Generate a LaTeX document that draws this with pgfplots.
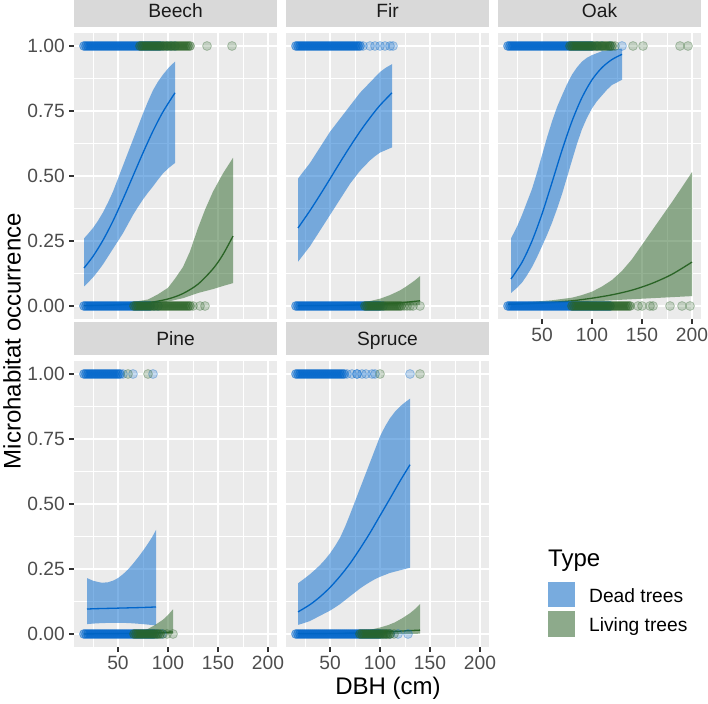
\documentclass[border=0pt]{standalone}
\usepackage{fontspec}
\setmainfont{Liberation Sans}
\usepackage{pgfplots}
\pgfplotsset{compat=1.18}
\definecolor{deadc}{HTML}{0066CC}
\definecolor{livec}{HTML}{2A6426}
\definecolor{panelbg}{HTML}{EBEBEB}
\definecolor{stripbg}{HTML}{D9D9D9}
\definecolor{striptxt}{HTML}{1A1A1A}
\definecolor{ticktxt}{HTML}{4D4D4D}
\definecolor{tickc}{HTML}{333333}
\definecolor{legbg}{HTML}{F2F2F2}
\newcommand\smallfont{\fontsize{19.2pt}{23pt}\selectfont}
\newcommand\bigfont{\fontsize{24pt}{29pt}\selectfont}
\pgfplotsset{
  panel/.style={
    scale only axis, width=203pt, height=286pt,
    xmin=6, xmax=209, ymin=-0.05, ymax=1.05,
    axis background/.style={fill=panelbg},
    axis line style={draw=none},
    xtick={50,100,150,200}, ytick={0,0.25,0.5,0.75,1},
    minor xtick={25,75,125,175}, minor ytick={0.125,0.375,0.625,0.875},
    grid=both,
    major grid style={white, line width=1.6pt},
    minor grid style={white, line width=0.8pt},
    tick align=outside, major tick length=5pt, minor tick length=0pt,
    tick style={draw=tickc, line width=1.1pt},
    xtick pos=left, ytick pos=left,
    xticklabels={}, yticklabels={},
    ticklabel style={font=\smallfont, text=ticktxt},
    xticklabel style={inner sep=0pt, text height=13.7pt, text depth=0pt, yshift=-4pt},
    yticklabel style={inner sep=0pt, xshift=-4pt},
    title style={at={(0.5,1)}, anchor=south, yshift=0pt, fill=stripbg,
      minimum width=203pt, minimum height=33pt, inner sep=0pt,
      text height=13.7pt, text depth=0pt, text=striptxt, font=\smallfont},
  },
  noxt/.style={xticklabels={}, xtick style={draw=none}},
  noyt/.style={yticklabels={}, ytick style={draw=none}},
  xt/.style={xticklabels={50,100,150,200}},
  yt/.style={yticklabels={0.00,0.25,0.50,0.75,1.00}},
  deadpts/.style={only marks, mark=*, mark size=4.5pt,
    mark options={draw=deadc, fill=deadc, fill opacity=0.22, draw opacity=0.3, line width=0.8pt}},
  livepts/.style={only marks, mark=*, mark size=4.5pt,
    mark options={draw=livec, fill=livec, fill opacity=0.22, draw opacity=0.3, line width=0.8pt}},
  deaddense/.style={only marks, mark=*, mark size=4.5pt,
    mark options={draw=deadc, fill=deadc, fill opacity=0.45, draw opacity=0.5, line width=0.8pt}},
  livedense/.style={only marks, mark=*, mark size=4.5pt,
    mark options={draw=livec, fill=livec, fill opacity=0.4, draw opacity=0.45, line width=0.8pt}},
  deadrib/.style={fill=deadc, fill opacity=0.5, draw=none, no marks},
  liverib/.style={fill=livec, fill opacity=0.5, draw=none, no marks},
  deadline/.style={deadc, line width=1.3pt, smooth, no marks},
  liveline/.style={livec, line width=1.3pt, smooth, no marks},
}
\begin{document}
\begin{tikzpicture}
\path[use as bounding box] (0pt,0pt) rectangle (708pt,703pt);

% ---------------- Beech ----------------
\begin{axis}[panel, noxt, yt, title={Beech}, at={(74pt,384pt)}, anchor=south west]
\addplot[deaddense] coordinates {(16,1)(18,1)(20,1)(22,1)(24,1)(26,1)(28,1)(30,1)(32,1)(34,1)(36,1)(38,1)(40,1)(42,1)(44,1)(46,1)(48,1)(50,1)(52,1)(54,1)(56,1)(58,1)(60,1)(62,1)(64,1)(66,1)(68,1)(70,1)(72,1)(74,1)(76,1)(78,1)(80,1)(82,1)(84,1)(86,1)(88,1)(90,1)(92,1)
(16,0)(18,0)(20,0)(22,0)(24,0)(26,0)(28,0)(30,0)(32,0)(34,0)(36,0)(38,0)(40,0)(42,0)(44,0)(46,0)(48,0)(50,0)(52,0)(54,0)(56,0)(58,0)(60,0)(62,0)(64,0)(66,0)(68,0)(70,0)(72,0)(74,0)(76,0)(78,0)(80,0)(82,0)};
\addplot[deadpts] coordinates {(95,1)(99,1)(103,1)(107,1)(86,0)(90,0)};
\addplot[livedense] coordinates {(72,1)(74,1)(76,1)(78,1)(80,1)(82,1)(84,1)(86,1)(88,1)(90,1)(92,1)(94,1)(96,1)(98,1)(100,1)(102,1)(104,1)(106,1)(108,1)(110,1)(112,1)(114,1)(116,1)(118,1)(120,1)(122,1)
(66,0)(68,0)(70,0)(72,0)(74,0)(76,0)(78,0)(80,0)(82,0)(84,0)(86,0)(88,0)(90,0)(92,0)(94,0)(96,0)(98,0)(100,0)(102,0)(104,0)(106,0)(108,0)(110,0)(112,0)(114,0)(116,0)(118,0)(120,0)(122,0)};
\addplot[livepts] coordinates {(139,1)(164,1)(125,0)(132,0)(137,0)};
\addplot[deadrib] coordinates {(16,0.26)(20,0.277)(25,0.30)(30,0.328)(35,0.36)(40,0.398)(45,0.44)(50,0.49)(55,0.54)(60,0.59)(65,0.64)(70,0.69)(75,0.74)(80,0.787)(85,0.83)(90,0.863)(95,0.89)(101,0.918)(107,0.94)
(107,0.55)(101,0.532)(95,0.51)(90,0.486)(85,0.46)(80,0.436)(75,0.41)(70,0.381)(65,0.35)(60,0.315)(55,0.28)(50,0.25)(45,0.22)(40,0.19)(35,0.16)(30,0.134)(25,0.11)(20,0.09)(16,0.075)};
\addplot[deadline] coordinates {(16,0.146)(25,0.191)(35,0.253)(45,0.327)(55,0.411)(65,0.5)(75,0.589)(85,0.673)(95,0.747)(107,0.82)};
\addplot[liverib] coordinates {(16,0.003)(40,0.006)(60,0.012)(80,0.025)(90,0.045)(100,0.07)(107,0.105)(115,0.15)(122,0.21)(130,0.30)(137,0.37)(145,0.44)(150,0.475)(155,0.51)(160,0.54)(165,0.57)
(165,0.088)(155,0.077)(145,0.065)(130,0.05)(115,0.03)(100,0.017)(80,0.007)(60,0.003)(40,0.001)(16,0.0002)};
\addplot[liveline] coordinates {(16,0.001)(40,0.0026)(60,0.0057)(80,0.0125)(100,0.027)(115,0.048)(130,0.084)(145,0.143)(155,0.198)(165,0.269)};
\end{axis}

% ---------------- Fir ----------------
\begin{axis}[panel, noxt, noyt, title={Fir}, at={(286pt,384pt)}, anchor=south west]
\addplot[deaddense] coordinates {(16,1)(18,1)(20,1)(22,1)(24,1)(26,1)(28,1)(30,1)(32,1)(34,1)(36,1)(38,1)(40,1)(42,1)(44,1)(46,1)(48,1)(50,1)(52,1)(54,1)(56,1)(58,1)(60,1)(62,1)(64,1)(66,1)(68,1)(70,1)(72,1)(74,1)(76,1)(78,1)(80,1)
(16,0)(18,0)(20,0)(22,0)(24,0)(26,0)(28,0)(30,0)(32,0)(34,0)(36,0)(38,0)(40,0)(42,0)(44,0)(46,0)(48,0)(50,0)(52,0)(54,0)(56,0)(58,0)(60,0)(62,0)(64,0)(66,0)(68,0)(70,0)(72,0)(74,0)(76,0)(78,0)(80,0)(82,0)(84,0)(86,0)(88,0)(90,0)(92,0)(94,0)(96,0)(98,0)(100,0)};
\addplot[deadpts] coordinates {(83,1)(90,1)(95,1)(100,1)(105,1)(110,1)(113,1)(103,0)};
\addplot[livedense] coordinates {(85,0)(87,0)(89,0)(91,0)(93,0)(95,0)(97,0)(99,0)(101,0)(103,0)(105,0)(107,0)(109,0)(111,0)(113,0)(115,0)(117,0)(119,0)(121,0)};
\addplot[livepts] coordinates {(124,0)(127,0)(130,0)(133,0)(140,0)};
\addplot[deadrib] coordinates {(18,0.49)(24,0.52)(30,0.55)(35,0.58)(40,0.61)(45,0.64)(50,0.67)(55,0.695)(60,0.72)(65,0.745)(70,0.77)(75,0.795)(80,0.82)(85,0.84)(90,0.86)(95,0.88)(100,0.90)(106,0.917)(112,0.93)
(112,0.61)(106,0.60)(100,0.59)(95,0.576)(90,0.56)(85,0.54)(80,0.52)(75,0.495)(70,0.47)(65,0.44)(60,0.41)(55,0.38)(50,0.35)(45,0.32)(40,0.29)(35,0.26)(30,0.23)(24,0.20)(18,0.17)};
\addplot[deadline] coordinates {(18,0.30)(30,0.367)(40,0.427)(50,0.489)(60,0.552)(70,0.613)(80,0.671)(90,0.724)(100,0.772)(112,0.82)};
\addplot[liverib] coordinates {(18,0.001)(60,0.005)(80,0.012)(90,0.019)(100,0.028)(110,0.042)(120,0.06)(125,0.072)(130,0.085)(135,0.099)(140,0.115)
(140,0.003)(130,0.0025)(120,0.002)(100,0.001)(80,0.0006)(60,0.0003)(18,0.0001)};
\addplot[liveline] coordinates {(18,0.0005)(60,0.002)(80,0.004)(100,0.007)(120,0.012)(130,0.016)(140,0.02)};
\end{axis}

% ---------------- Oak ----------------
\begin{axis}[panel, xt, noyt, title={Oak}, at={(498pt,384pt)}, anchor=south west]
\addplot[deaddense] coordinates {(16,1)(18,1)(20,1)(22,1)(24,1)(26,1)(28,1)(30,1)(32,1)(34,1)(36,1)(38,1)(40,1)(42,1)(44,1)(46,1)(48,1)(50,1)(52,1)(54,1)(56,1)(58,1)(60,1)(62,1)(64,1)(66,1)(68,1)(70,1)(72,1)(74,1)(76,1)(78,1)(80,1)(82,1)(84,1)(86,1)(88,1)(90,1)(92,1)(94,1)(96,1)(98,1)(100,1)
(16,0)(18,0)(20,0)(22,0)(24,0)(26,0)(28,0)(30,0)(32,0)(34,0)(36,0)(38,0)(40,0)(42,0)(44,0)(46,0)(48,0)(50,0)(52,0)(54,0)(56,0)(58,0)(60,0)(62,0)(64,0)(66,0)(68,0)(70,0)(72,0)(74,0)(76,0)(78,0)(80,0)(82,0)(84,0)(86,0)(88,0)(90,0)(92,0)(94,0)(96,0)(98,0)(100,0)(102,0)(104,0)(106,0)(108,0)(110,0)(112,0)(114,0)(116,0)(118,0)};
\addplot[deadpts] coordinates {(105,1)(110,1)(118,1)(130,1)};
\addplot[livedense] coordinates {(78,1)(80,1)(82,1)(84,1)(86,1)(88,1)(90,1)(92,1)(94,1)(96,1)(98,1)(100,1)(102,1)(104,1)(106,1)(108,1)(110,1)(112,1)(114,1)(116,1)(118,1)(120,1)
(80,0)(82,0)(84,0)(86,0)(88,0)(90,0)(92,0)(94,0)(96,0)(98,0)(100,0)(102,0)(104,0)(106,0)(108,0)(110,0)(112,0)(114,0)(116,0)(118,0)(120,0)(122,0)(124,0)(126,0)(128,0)(130,0)(132,0)(134,0)(136,0)(138,0)};
\addplot[livepts] coordinates {(123,1)(141,1)(151,1)(188,1)(196,1)(146,0)(150,0)(158,0)(161,0)(178,0)(190,0)(198,0)};
\addplot[deadrib] coordinates {(19,0.26)(25,0.305)(30,0.35)(35,0.40)(40,0.45)(45,0.513)(50,0.58)(55,0.648)(60,0.71)(65,0.765)(70,0.81)(75,0.853)(80,0.89)(85,0.918)(90,0.94)(95,0.955)(100,0.965)(110,0.98)(120,0.987)(130,0.99)
(130,0.87)(120,0.85)(115,0.832)(110,0.81)(105,0.788)(100,0.76)(95,0.724)(90,0.68)(85,0.624)(80,0.56)(75,0.495)(70,0.43)(65,0.373)(60,0.32)(55,0.273)(50,0.23)(45,0.188)(40,0.15)(35,0.118)(30,0.09)(25,0.07)(19,0.05)};
\addplot[deadline] coordinates {(19,0.104)(30,0.168)(40,0.25)(50,0.354)(60,0.475)(70,0.599)(80,0.711)(90,0.802)(100,0.87)(110,0.917)(120,0.948)(130,0.968)};
\addplot[liverib] coordinates {(16,0.012)(40,0.016)(60,0.022)(80,0.032)(90,0.042)(100,0.055)(110,0.075)(120,0.10)(130,0.135)(140,0.18)(150,0.235)(160,0.29)(170,0.345)(180,0.40)(190,0.457)(200,0.515)
(200,0.038)(180,0.034)(160,0.03)(140,0.026)(120,0.022)(100,0.017)(80,0.013)(60,0.009)(40,0.006)(16,0.003)};
\addplot[liveline] coordinates {(16,0.0061)(40,0.0097)(60,0.014)(80,0.020)(100,0.030)(120,0.043)(140,0.061)(160,0.087)(180,0.122)(200,0.169)};
\end{axis}

% ---------------- Pine ----------------
\begin{axis}[panel, xt, yt, title={Pine}, at={(74pt,56pt)}, anchor=south west]
\addplot[deaddense] coordinates {(16,1)(18,1)(20,1)(22,1)(24,1)(26,1)(28,1)(30,1)(32,1)(34,1)(36,1)(38,1)(40,1)(42,1)(44,1)(46,1)(48,1)(50,1)(52,1)
(16,0)(18,0)(20,0)(22,0)(24,0)(26,0)(28,0)(30,0)(32,0)(34,0)(36,0)(38,0)(40,0)(42,0)(44,0)(46,0)(48,0)(50,0)(52,0)(54,0)(56,0)(58,0)(60,0)(62,0)(64,0)(66,0)(68,0)(70,0)(72,0)(74,0)(76,0)(78,0)(80,0)(82,0)(84,0)(86,0)};
\addplot[deadpts] coordinates {(55,1)(65,1)(85,1)(89,0)(94,0)};
\addplot[livedense] coordinates {(66,0)(68,0)(70,0)(72,0)(74,0)(76,0)(78,0)(80,0)(82,0)(84,0)(86,0)(88,0)(90,0)(92,0)};
\addplot[livepts] coordinates {(60,1)(80,1)(95,0)(99,0)(105,0)};
\addplot[deadrib] coordinates {(19,0.215)(25,0.205)(30,0.2)(34,0.197)(40,0.199)(45,0.205)(50,0.215)(55,0.23)(60,0.248)(65,0.27)(70,0.294)(75,0.32)(80,0.348)(84,0.372)(88,0.40)
(88,0.033)(75,0.038)(65,0.041)(55,0.043)(45,0.043)(34,0.042)(25,0.04)(19,0.038)};
\addplot[deadline] coordinates {(19,0.096)(25,0.097)(34,0.098)(45,0.099)(55,0.100)(65,0.101)(75,0.102)(88,0.104)};
\addplot[liverib] coordinates {(16,0.0005)(40,0.002)(60,0.004)(70,0.008)(75,0.012)(80,0.02)(85,0.03)(90,0.042)(95,0.055)(100,0.073)(105,0.095)
(105,0.0003)(95,0.0002)(85,0.0001)(75,0.0001)(60,0.0001)(40,0.0001)(16,0.0001)};
\addplot[liveline] coordinates {(16,0.0003)(40,0.001)(60,0.002)(75,0.003)(85,0.004)(95,0.006)(105,0.008)};
\end{axis}

% ---------------- Spruce ----------------
\begin{axis}[panel, xt, noyt, title={Spruce}, at={(286pt,56pt)}, anchor=south west]
\addplot[deaddense] coordinates {(16,1)(18,1)(20,1)(22,1)(24,1)(26,1)(28,1)(30,1)(32,1)(34,1)(36,1)(38,1)(40,1)(42,1)(44,1)(46,1)(48,1)(50,1)(52,1)(54,1)(56,1)(58,1)(60,1)(62,1)(64,1)
(16,0)(18,0)(20,0)(22,0)(24,0)(26,0)(28,0)(30,0)(32,0)(34,0)(36,0)(38,0)(40,0)(42,0)(44,0)(46,0)(48,0)(50,0)(52,0)(54,0)(56,0)(58,0)(60,0)(62,0)(64,0)(66,0)(68,0)(70,0)(72,0)(74,0)(76,0)(78,0)(80,0)(82,0)(84,0)(86,0)(88,0)(90,0)(92,0)(94,0)(96,0)(98,0)(100,0)};
\addplot[deadpts] coordinates {(67,1)(72,1)(77,1)(77,1)(82,1)(86,1)(92,1)(95,1)(130,1)(103,0)(106,0)(110,0)(118,0)(128,0)};
\addplot[livedense] coordinates {(80,0)(82,0)(84,0)(86,0)(88,0)(90,0)(92,0)(94,0)(96,0)(98,0)(100,0)(102,0)(104,0)(106,0)(108,0)(110,0)};
\addplot[livepts] coordinates {(100,1)(140,1)(114,0)};
\addplot[deadrib] coordinates {(18,0.195)(24,0.212)(30,0.23)(35,0.247)(40,0.265)(45,0.286)(50,0.31)(55,0.338)(60,0.37)(65,0.412)(70,0.46)(75,0.51)(80,0.56)(85,0.61)(90,0.66)(95,0.71)(100,0.76)(105,0.798)(110,0.83)(115,0.855)(120,0.875)(125,0.891)(130,0.905)
(130,0.255)(120,0.245)(110,0.235)(100,0.22)(95,0.211)(90,0.20)(85,0.188)(80,0.175)(75,0.16)(70,0.145)(65,0.13)(60,0.115)(55,0.102)(50,0.09)(45,0.08)(40,0.07)(35,0.06)(30,0.05)(24,0.042)(18,0.035)};
\addplot[deadline] coordinates {(18,0.085)(30,0.113)(40,0.143)(50,0.179)(60,0.222)(70,0.271)(80,0.328)(90,0.389)(100,0.455)(110,0.521)(120,0.588)(130,0.651)};
\addplot[liverib] coordinates {(18,0.001)(60,0.004)(80,0.01)(90,0.016)(100,0.025)(108,0.034)(115,0.045)(122,0.06)(130,0.08)(135,0.096)(140,0.115)
(140,0.001)(130,0.0008)(115,0.0006)(100,0.0004)(80,0.0003)(60,0.0002)(18,0.0001)};
\addplot[liveline] coordinates {(18,0.0008)(60,0.002)(80,0.004)(100,0.007)(115,0.01)(130,0.013)(140,0.015)};
\end{axis}

% ---------------- axis titles ----------------
\node[font=\bigfont, anchor=base] at (388pt,9pt) {DBH (cm)};
\node[font=\bigfont, rotate=90, anchor=center] at (12pt,362pt) {Microhabitat occurrence};

% ---------------- legend ----------------
\node[font=\bigfont, anchor=base west, inner sep=0pt] at (548pt,136pt) {Type};
\fill[legbg] (548pt,96pt) rectangle (575pt,121pt);
\fill[deadc, fill opacity=0.5] (548pt,96pt) rectangle (575pt,121pt);
\fill[legbg] (548pt,66pt) rectangle (575pt,92pt);
\fill[livec, fill opacity=0.5] (548pt,66pt) rectangle (575pt,92pt);
\node[font=\smallfont, anchor=base west, inner sep=0pt] at (589pt,100pt) {Dead trees};
\node[font=\smallfont, anchor=base west, inner sep=0pt] at (589pt,71pt) {Living trees};
\end{tikzpicture}
\end{document}
